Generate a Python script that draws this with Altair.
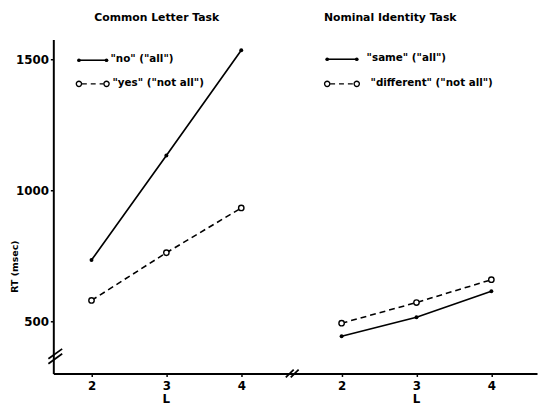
import altair as alt
import pandas as pd

# ---- data ----
L = [2, 3, 4]
no_all = [733, 1132, 1534]
yes_not_all = [579, 761, 932]
same_all = [442, 515, 614]
different_not_all = [492, 571, 658]
series_names = ['"no"  ("all")', '"yes"  ("not all")', '"same"  ("all")', '"different"  ("not all")']
panel_titles = ["Common Letter Task", "Nominal Identity Task"]
y_ticks = [500, 1000, 1500]
x_title = "L"
y_title = "RT (msec)"

SHIFT = 3.34  # horizontal offset of the second panel on the shared x axis

rows = []
for name, vals, panel, style in [
    (series_names[0], no_all, 0, "solid"),
    (series_names[1], yes_not_all, 0, "dashed"),
    (series_names[2], same_all, 1, "solid"),
    (series_names[3], different_not_all, 1, "dashed"),
]:
    for l, v in zip(L, vals):
        rows.append({"series": name, "L": l, "xp": l + panel * SHIFT, "rt": v, "style": style})
df = pd.DataFrame(rows)

x_ticks = [l + p * SHIFT for p in (0, 1) for l in L]

FONT = "DejaVu Sans"
xs = alt.Scale(domain=[1.49, 7.95], nice=False, zero=False)
ys = alt.Scale(domain=[300, 1575], nice=False, zero=False)

X = alt.X("xp:Q", scale=xs, axis=alt.Axis(
    values=x_ticks, title=None, grid=False, tickSize=3, labelPadding=4,
    labelExpr="datum.value > 4.5 ? format(datum.value - %s, 'd') : format(datum.value, 'd')" % SHIFT))
Y = alt.Y("rt:Q", scale=ys, axis=alt.Axis(
    values=y_ticks, format="d", title=y_title, grid=False, tickSize=3, labelPadding=2,
    titleX=-34, titleY=230, titleAngle=270, titleFontSize=9.5, titleFont=FONT, titleFontWeight="bold"))

base = alt.Chart(df)

solid_line = base.transform_filter("datum.style == 'solid'").mark_line(
    color="black", strokeWidth=1.7).encode(x=X, y=Y, detail="series:N")
dashed_line = base.transform_filter("datum.style == 'dashed'").mark_line(
    color="black", strokeWidth=1.6, strokeDash=[6, 4]).encode(x=X, y=Y, detail="series:N")
solid_pts = base.transform_filter("datum.style == 'solid'").mark_point(
    shape="circle", filled=True, color="black", size=16, opacity=1).encode(x=X, y=Y)
open_pts = base.transform_filter("datum.style == 'dashed'").mark_point(
    shape="circle", filled=True, fill="white", stroke="black", strokeWidth=1.4, size=30, opacity=1).encode(x=X, y=Y)

# x-axis titles under each panel
xt = pd.DataFrame({"xp": [3, 3 + SHIFT], "t": [x_title, x_title]})
x_titles = alt.Chart(xt).mark_text(font=FONT, fontWeight="bold", fontSize=12, color="black").encode(
    x=alt.X("xp:Q", scale=xs), y=alt.value(365), text="t:N")

layers = [solid_line, dashed_line, solid_pts, open_pts, x_titles]

# panel titles
for t, px in zip(panel_titles, [105, 342]):
    layers.append(alt.Chart(pd.DataFrame({"t": [t]})).mark_text(
        font=FONT, fontWeight="bold", fontSize=11, color="black").encode(
        x=alt.value(px), y=alt.value(-22), text="t:N"))

# manual legends
def legend_item(label, style, x0, x1, y, tx):
    one = pd.DataFrame({"t": [label]})
    out = []
    if style == "solid":
        out.append(alt.Chart(one).mark_rule(color="black", strokeWidth=1.6).encode(
            x=alt.value(x0), x2=alt.value(x1), y=alt.value(y)))
        for xx in (x0, x1):
            out.append(alt.Chart(one).mark_point(shape="circle", filled=True, color="black", size=14, opacity=1).encode(
                x=alt.value(xx), y=alt.value(y)))
    else:
        out.append(alt.Chart(one).mark_rule(color="black", strokeWidth=1.5, strokeDash=[5, 4]).encode(
            x=alt.value(x0 + 3), x2=alt.value(x1 - 3), y=alt.value(y)))
        for xx in (x0, x1):
            out.append(alt.Chart(one).mark_point(shape="circle", filled=True, fill="white", stroke="black",
                                                 strokeWidth=1.4, size=28, opacity=1).encode(
                x=alt.value(xx), y=alt.value(y)))
    out.append(alt.Chart(one).mark_text(font=FONT, fontWeight="bold", fontSize=10.5, align="left",
                                        color="black").encode(
        x=alt.value(tx), y=alt.value(y - 1), text="t:N"))
    return out

layers += legend_item(series_names[0], "solid", 26, 54, 21, 58)
layers += legend_item(series_names[1], "dashed", 26, 54, 45, 60)
layers += legend_item(series_names[2], "solid", 278, 308, 20, 318)
layers += legend_item(series_names[3], "dashed", 278, 308, 45, 322)

# axis break marks
brk = pd.DataFrame({"a": [0]})
for (x0, y0, x1, y1) in [(-5, 329, 9, 319), (-5, 324, 9, 314),
                         (236, 343, 244, 335), (241, 343, 249, 335)]:
    layers.append(alt.Chart(brk).mark_rule(color="black", strokeWidth=1.8).encode(
        x=alt.value(x0), y=alt.value(y0), x2=alt.value(x1), y2=alt.value(y1)))

chart = alt.layer(*layers).properties(
    width=491, height=339,
    background="white",
    autosize=alt.AutoSizeParams(type="none"),
    padding={"left": 46, "top": 29, "right": 2, "bottom": 32},
).configure_view(stroke=None).configure_axis(
    domainColor="black", domainWidth=2, tickColor="black", tickWidth=1.5,
    labelColor="black", labelFont=FONT, labelFontWeight="bold", labelFontSize=12,
    titleColor="black",
)

chart.save("out.html", embed_options={"renderer": "svg", "actions": False})
